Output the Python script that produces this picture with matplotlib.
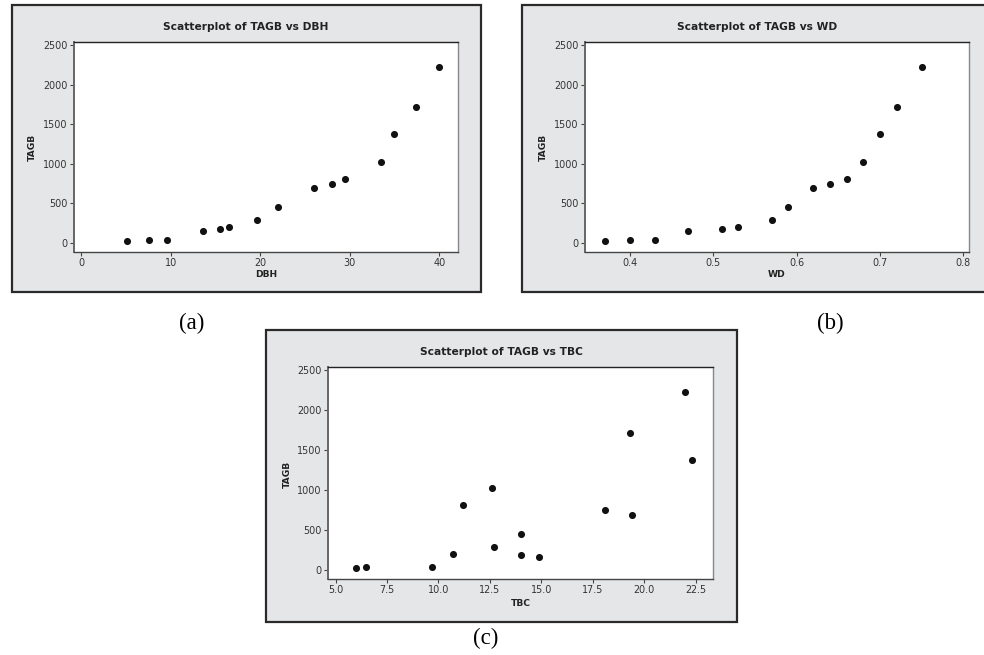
import matplotlib
matplotlib.use("Agg")
import matplotlib.pyplot as plt
from matplotlib.patches import Rectangle

# ---- data ----
tagb = [21, 30, 38, 152, 177, 198, 282, 451, 687, 746, 809, 1024, 1374, 1712, 2226]
dbh = [5.1, 7.6, 9.6, 13.6, 15.5, 16.5, 19.6, 22.0, 26.0, 28.0, 29.5, 33.5, 35.0, 37.4, 40.0]
wd = [0.37, 0.40, 0.43, 0.47, 0.51, 0.53, 0.57, 0.59, 0.62, 0.64, 0.66, 0.68, 0.70, 0.72, 0.75]
tbc = [6.0, 9.7, 6.5, 14.9, 14.0, 10.7, 12.7, 14.0, 19.4, 18.1, 11.2, 12.6, 22.3, 19.3, 22.0]

y_ticks = [0, 500, 1000, 1500, 2000, 2500]
dbh_ticks = [0, 10, 20, 30, 40]
wd_ticks = [0.4, 0.5, 0.6, 0.7, 0.8]
tbc_ticks = [5.0, 7.5, 10.0, 12.5, 15.0, 17.5, 20.0, 22.5]

W, H = 984, 655
fig = plt.figure(figsize=(W / 100, H / 100), dpi=100)
fig.patch.set_facecolor("white")


def fx(x):
    return x / W


def fy(y):
    return 1 - y / H


def box(x0, y0, x1, y1):
    r = Rectangle((fx(x0), fy(y1)), fx(x1 - x0), (y1 - y0) / H,
                  transform=fig.transFigure, facecolor="#e5e6e7",
                  edgecolor="#2a2a2a", linewidth=1.6, zorder=-5)
    fig.patches.append(r)


def panel(x0, y0, x1, y1, xs, xlim, xticks, xfmt, xlabel, title,
          title_xy, xlabel_xy, ylabel_xy):
    ax = fig.add_axes([fx(x0), fy(y1), fx(x1 - x0), (y1 - y0) / H])
    ax.set_zorder(5)
    ax.set_facecolor("white")
    ax.scatter(xs, tagb, s=26, color="#111111", zorder=3, linewidths=0)
    ax.set_xlim(*xlim)
    ax.set_ylim(-118, 2540)
    ax.set_xticks(xticks)
    ax.set_xticklabels([xfmt.format(v) for v in xticks])
    ax.set_yticks(y_ticks)
    ax.set_yticklabels([str(v) for v in y_ticks])
    ax.tick_params(direction="out", length=3, width=0.8, colors="#444444",
                   labelsize=6.9, labelcolor="#333333", pad=1.5)
    for side in ["left", "bottom", "top", "right"]:
        ax.spines[side].set_linewidth(1.0)
    ax.spines["left"].set_color("#666666")
    ax.spines["left"].set_linewidth(1.4)
    ax.spines["bottom"].set_color("#444444")
    ax.spines["top"].set_color("#222222")
    ax.spines["right"].set_color("#888888")
    fig.text(fx(title_xy[0]), fy(title_xy[1]), title, ha="center", va="center",
             fontsize=7.7, fontweight="bold", color="#222222", zorder=6)
    fig.text(fx(xlabel_xy[0]), fy(xlabel_xy[1]), xlabel, ha="center", va="center",
             fontsize=6.6, fontweight="bold", color="#222222", zorder=6)
    fig.text(fx(ylabel_xy[0]), fy(ylabel_xy[1]), "TAGB", ha="center", va="center",
             rotation=90, fontsize=6.6, fontweight="bold", color="#222222", zorder=6)
    return ax


# outer frames
box(12, 5, 481, 292)
box(522, 5, 990, 292)
box(266, 330, 737, 622)

panel(74, 42, 458, 252, dbh, (-0.8, 42.1), dbh_ticks, "{:g}", "DBH",
      "Scatterplot of TAGB vs DBH", (246, 27), (266, 274), (32, 147))
panel(585, 42, 969, 252, wd, (0.346, 0.807), wd_ticks, "{:.1f}", "WD",
      "Scatterplot of TAGB vs WD", (757, 27), (777, 274), (543, 147))
panel(328, 367, 713, 579, tbc, (4.63, 23.34), tbc_ticks, "{:.1f}", "TBC",
      "Scatterplot of TAGB vs TBC", (501, 352), (521, 603), (287, 474))

serif = ["Liberation Serif", "DejaVu Serif"]
fig.text(fx(192), fy(323), "(a)", ha="center", va="center", fontsize=16.5, family=serif)
fig.text(fx(830), fy(323), "(b)", ha="center", va="center", fontsize=16.5, family=serif)
fig.text(fx(486), fy(638), "(c)", ha="center", va="center", fontsize=16.5, family=serif)

fig.savefig("out.png", dpi=100)
